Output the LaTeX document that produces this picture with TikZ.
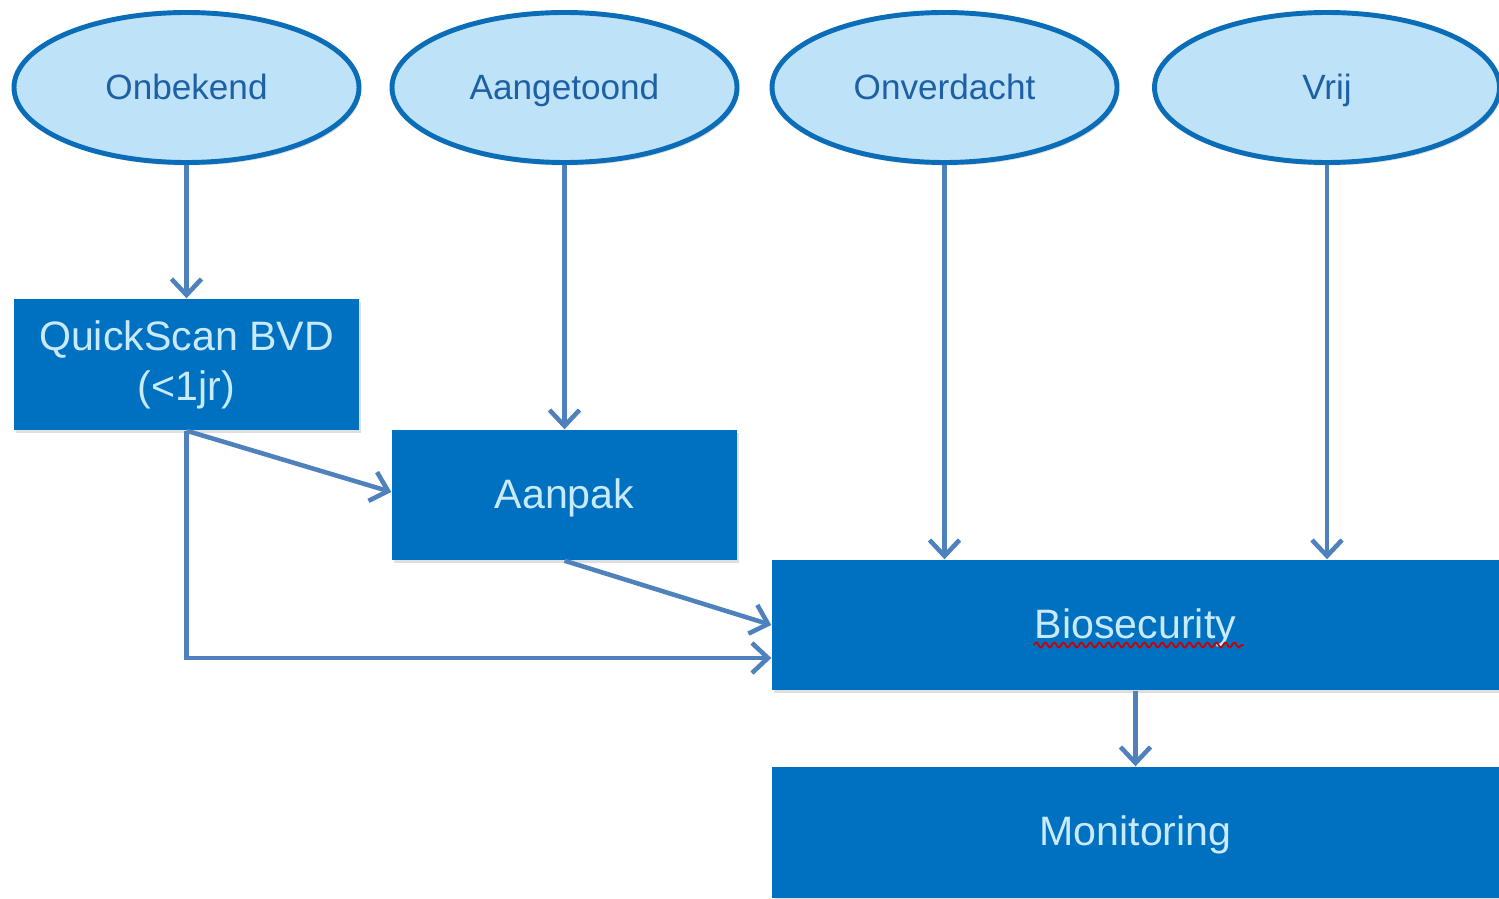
\documentclass[tikz,border=0pt]{standalone}
\usepackage{fontspec}
\setmainfont{Liberation Sans}
\usetikzlibrary{arrows.meta,shadows,shapes.geometric,decorations.pathmorphing}
\definecolor{boxblue}{HTML}{0070C0}
\definecolor{ellfill}{HTML}{BEE3F9}
\definecolor{ellline}{HTML}{0B6DB8}
\definecolor{elltext}{HTML}{1D60A3}
\definecolor{boxtext}{HTML}{C8EAFB}
\definecolor{arrblue}{HTML}{4F81BD}

\tikzset{
	status/.style={ellipse, draw=ellline, fill=ellfill, line width=1.4pt, minimum width=3.45cm, minimum height=1.5cm, inner sep=0pt, text height=1.7ex, text depth=0.45ex, text=elltext, font=\fontsize{10}{12}\selectfont, drop shadow={shadow xshift=0.2mm, shadow yshift=-0.3mm, opacity=0.25}},
	stage/.style={rectangle, fill=boxblue, text=boxtext, inner sep=0pt, align=center, font=\fontsize{11.7}{14.2}\selectfont, drop shadow={shadow xshift=0.2mm, shadow yshift=-0.3mm, opacity=0.25}},
	arr/.style={draw=arrblue, line width=1.3pt, -{Straight Barb[length=1.6mm, width=3mm]}}
}

\begin{document}
\begin{tikzpicture}
\useasboundingbox (0,0) rectangle (14.99,-8.98);
\node[status] (onbekend) at (1.865,-0.875) {Onbekend};
\node[status] (aangetoond) at (5.645,-0.875) {Aangetoond};
\node[status] (onverdacht) at (9.445,-0.875) {Onverdacht};
\node[status] (vrij) at (13.27,-0.875) {Vrij};

\node[stage, minimum width=3.45cm, minimum height=1.31cm] (quickscan) at (1.865,-3.645) {QuickScan BVD\\(<1jr)};
\node[stage, minimum width=3.45cm, minimum height=1.30cm, text height=1.7ex, text depth=0.3ex] (aanpak) at (5.645,-4.95) {Aanpak};
\node[stage, minimum width=7.27cm, minimum height=1.30cm, text height=1.7ex, text depth=0.3ex] (biosecurity) at (11.355,-6.25) {Biosecurity};
\node[stage, minimum width=7.27cm, minimum height=1.31cm, text height=1.7ex, text depth=0.3ex] (monitoring) at (11.355,-8.325) {Monitoring};

\draw[red!80!black, line width=0.5pt, decorate, decoration={snake, amplitude=0.25mm, segment length=0.9mm}]
	([xshift=-1.02cm, yshift=-0.2cm]biosecurity.center) -- ([xshift=1.08cm, yshift=-0.2cm]biosecurity.center);

\draw[arr] (onbekend) -- (quickscan);
\draw[arr] (aangetoond) -- (aanpak);
\draw[arr] (onverdacht) -- (onverdacht |- biosecurity.north);
\draw[arr] (vrij) -- (vrij |- biosecurity.north);
\draw[arr] (quickscan.south) -- ([yshift=0.03cm]aanpak.west);
\draw[arr] (aanpak.south) -- (biosecurity.west);
\draw[arr] (quickscan.south) |- ([yshift=-0.33cm]biosecurity.west);
\draw[arr] (biosecurity) -- (monitoring);
\end{tikzpicture}
\end{document}
